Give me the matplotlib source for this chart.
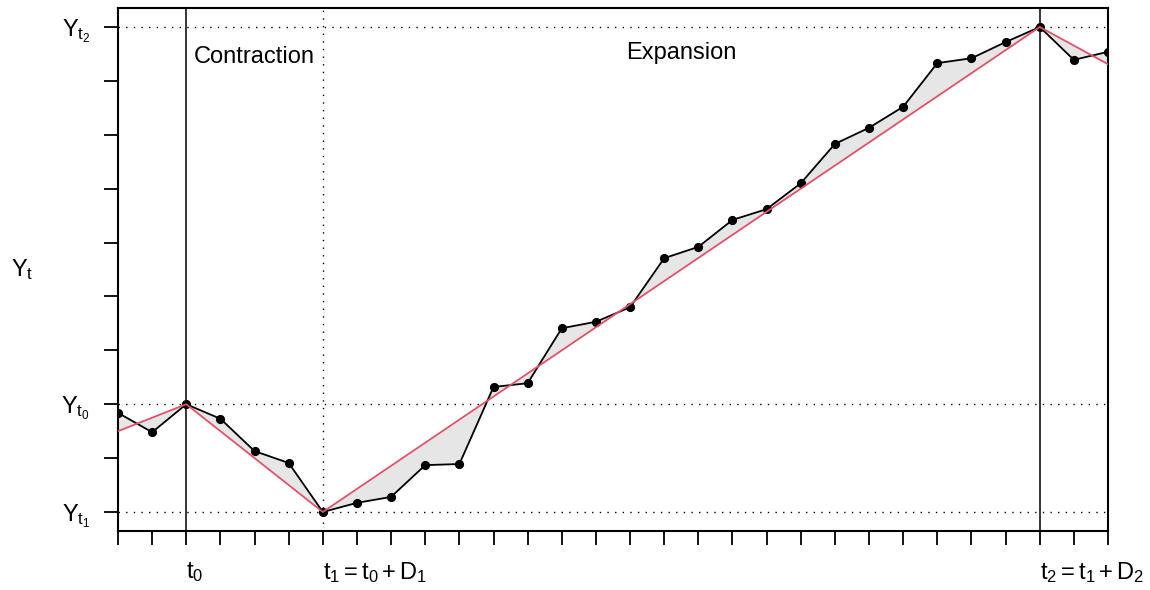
import numpy as np
import matplotlib
matplotlib.use("Agg")
import matplotlib.pyplot as plt

plt.rcParams['font.family'] = ['Liberation Sans', 'DejaVu Sans']
plt.rcParams['mathtext.fontset'] = 'custom'
plt.rcParams['mathtext.rm'] = 'Liberation Sans'
plt.rcParams['mathtext.it'] = 'Liberation Sans'
plt.rcParams['mathtext.bf'] = 'Liberation Sans:bold'
plt.rcParams['mathtext.default'] = 'rm'

# ---- data ----
time = np.arange(30)
series = [1.84, 1.48, 2.00, 1.73, 1.13, 0.91, 0.00, 0.17, 0.28, 0.87,
          0.89, 2.32, 2.39, 3.41, 3.53, 3.80, 4.71, 4.92, 5.42, 5.62,
          6.10, 6.83, 7.13, 7.52, 8.33, 8.42, 8.72, 9.00, 8.39, 8.54]
trend_x = [0, 2, 6, 27, 29]
trend_y = [1.50, 2.00, 0.00, 9.00, 8.31]
turning_x = [2, 6, 27]            # t0, t1, t2
turning_labels = [r'$t_0$', r'$t_1 = t_0 + D_1$', r'$t_2 = t_1 + D_2$']
level_y = [0, 2, 9]               # Y_t1, Y_t0, Y_t2
level_labels = [r'$Y_{t_1}$', r'$Y_{t_0}$', r'$Y_{t_2}$']
phase_labels = ['Contraction', 'Expansion']
phase_mid = [4, 16.5]
phase_base = [8.33, 8.40]

RED = '#DF536B'
FS = 17

fig = plt.figure(figsize=(11.5, 5.9), dpi=100)
ax = fig.add_axes([118/1150, 1-531.4/590, (1108-118)/1150, (531.4-7.6)/590])

trend_at = np.interp(time, trend_x, trend_y)
ax.fill_between(time, series, trend_at, color='#E6E6E6', interpolate=True,
                linewidth=0, zorder=1)

dot = (0, (1, 4.5))
for y in level_y:
    ax.axhline(y, color='black', lw=1, ls=dot, zorder=2)
ax.axvline(turning_x[0], color='black', lw=1.1, zorder=2)
ax.axvline(turning_x[1], color='black', lw=1, ls=dot, zorder=2)
ax.axvline(turning_x[2], color='black', lw=1.1, zorder=2)

ax.plot(time, series, color='black', lw=1.3, marker='o', ms=5.6, zorder=3,
        clip_on=True)
ax.plot(trend_x, trend_y, color=RED, lw=1.3, zorder=4)

for lab, xm, yb in zip(phase_labels, phase_mid, phase_base):
    ax.text(xm, yb, lab, ha='center', va='baseline', fontsize=FS)

ax.set_xlim(0, 29)
ax.set_ylim(-0.36, 9.36)

ax.set_xticks(time)
ax.set_xticklabels([turning_labels[turning_x.index(t)] if t in turning_x else ''
                    for t in time])
for lab in ax.get_xticklabels():
    lab.set_horizontalalignment('left')
ax.set_yticks(np.arange(10))
ax.set_yticklabels([level_labels[level_y.index(v)] if v in level_y else ''
                    for v in range(10)])

ax.tick_params(axis='both', direction='out', length=10, width=1.3,
               labelsize=FS, color='black')
ax.tick_params(axis='x', pad=11)
ax.tick_params(axis='y', pad=10)

for s in ax.spines.values():
    s.set_linewidth(1.5)

fig.text(22/1150, 1-270/590, r'$Y_t$', ha='center', va='center', fontsize=FS)

fig.savefig('out.png', dpi=100)
